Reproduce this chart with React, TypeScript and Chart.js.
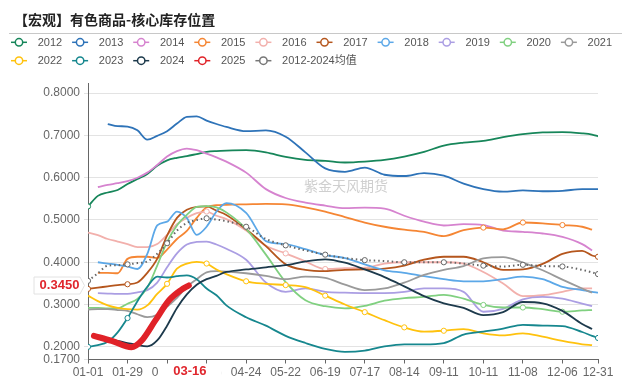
import React, { useEffect, useRef } from 'react';
import { Chart, registerables } from 'chart.js';
Chart.register(...registerables);

const TITLE = '【宏观】有色商品-核心库存位置';
const WATERMARK = '紫金天风期货';

// x positions are trading-day indices of the year (0 .. 258)
const X_GRID = [0, 5, 10, 15, 20, 25, 30, 35, 40, 45, 50, 55, 60, 65, 70, 80, 90, 100, 110, 120, 130, 140, 150, 160, 170, 180, 190, 200, 210, 220, 230, 240, 250, 255, 258];
const TICK_IDX = [0, 20, 40, 60, 80, 100, 120, 140, 160, 180, 200, 220, 240, 258];
const TICK_LABELS = ['01-01', '01-29', '02-26', '03-26', '04-24', '05-22', '06-19', '07-17', '08-14', '09-11', '10-11', '11-08', '12-06', '12-31'];
const Y_TICKS = [0.17, 0.2, 0.3, 0.4, 0.5, 0.6, 0.7, 0.8];

const S2012 = [0.532, 0.557, 0.565, 0.571, 0.585, 0.597, 0.609, 0.628, 0.641, 0.647, 0.651, 0.656, 0.661, 0.663, 0.664, 0.665, 0.660, 0.649, 0.642, 0.640, 0.636, 0.638, 0.642, 0.650, 0.661, 0.676, 0.683, 0.687, 0.696, 0.703, 0.707, 0.708, 0.705, 0.702, 0.698];
const S2013 = [null, null, 0.727, 0.722, 0.721, 0.712, 0.690, 0.699, 0.710, 0.728, 0.744, 0.745, 0.735, 0.727, 0.720, 0.710, 0.712, 0.697, 0.660, 0.622, 0.614, 0.624, 0.607, 0.604, 0.611, 0.605, 0.586, 0.573, 0.567, 0.570, 0.568, 0.569, 0.573, 0.573, 0.573];
const S2014 = [null, 0.578, 0.583, 0.587, 0.592, 0.600, 0.612, 0.630, 0.650, 0.663, 0.669, 0.665, 0.657, 0.648, 0.638, 0.612, 0.573, 0.552, 0.541, 0.534, 0.528, 0.529, 0.527, 0.510, 0.496, 0.487, 0.490, 0.488, 0.475, 0.472, 0.468, 0.460, 0.443, 0.428, null];
const S2015 = [null, 0.375, 0.375, 0.374, 0.408, 0.413, 0.413, 0.410, 0.430, 0.455, 0.474, 0.505, 0.530, 0.535, 0.536, 0.537, 0.538, 0.537, 0.530, 0.520, 0.507, 0.494, 0.484, 0.477, 0.472, 0.462, 0.476, 0.482, 0.478, 0.494, 0.492, 0.488, 0.484, 0.477, null];
const S2016 = [0.470, 0.464, 0.455, 0.449, 0.443, 0.436, 0.436, 0.443, 0.465, 0.490, 0.505, 0.516, 0.520, 0.510, 0.502, 0.475, 0.439, 0.421, 0.402, 0.384, 0.386, 0.387, 0.397, 0.400, 0.400, 0.400, 0.397, 0.377, 0.350, 0.320, 0.322, 0.330, 0.338, 0.338, null];
const S2017 = [0.337, 0.340, 0.343, 0.346, 0.348, 0.352, 0.375, 0.408, 0.463, 0.505, 0.524, 0.531, 0.532, 0.522, 0.512, 0.478, 0.438, 0.395, 0.382, 0.379, 0.382, 0.383, 0.385, 0.392, 0.406, 0.413, 0.413, 0.400, 0.382, 0.383, 0.396, 0.420, 0.427, 0.416, 0.413];
const S2018 = [null, 0.400, 0.397, 0.394, 0.390, 0.384, 0.420, 0.487, 0.496, 0.520, 0.505, 0.465, 0.484, 0.520, 0.540, 0.517, 0.450, 0.443, 0.431, 0.417, 0.410, 0.395, 0.381, 0.375, 0.367, 0.360, 0.355, 0.355, 0.360, 0.366, 0.360, 0.342, 0.334, 0.330, 0.328];
const S2019 = [null, 0.327, 0.326, 0.325, 0.325, 0.329, 0.334, 0.352, 0.388, 0.421, 0.442, 0.448, 0.449, 0.442, 0.432, 0.406, 0.352, 0.330, 0.338, 0.330, 0.328, 0.327, 0.327, 0.330, 0.338, 0.338, 0.330, 0.283, 0.290, 0.312, 0.318, 0.314, 0.302, 0.296, null];
const S2020 = [0.292, 0.292, 0.291, 0.291, 0.302, 0.313, 0.340, 0.392, 0.448, 0.487, 0.512, 0.531, 0.533, 0.530, 0.518, 0.479, 0.418, 0.353, 0.310, 0.296, 0.291, 0.297, 0.309, 0.315, 0.318, 0.323, 0.314, 0.299, 0.293, 0.293, 0.289, 0.283, 0.286, 0.287, null];
const S2021 = [0.288, 0.289, 0.289, 0.287, 0.285, 0.277, 0.270, 0.276, 0.295, 0.316, 0.342, 0.360, 0.376, 0.379, 0.378, 0.374, 0.368, 0.360, 0.366, 0.363, 0.347, 0.334, 0.338, 0.352, 0.370, 0.382, 0.391, 0.409, 0.412, 0.399, 0.381, 0.359, 0.338, 0.328, null];
const S2022 = [0.321, 0.308, 0.298, 0.292, 0.289, 0.288, 0.298, 0.325, 0.349, 0.385, 0.397, 0.401, 0.397, 0.383, 0.372, 0.355, 0.349, 0.346, 0.341, 0.321, 0.300, 0.282, 0.263, 0.246, 0.236, 0.238, 0.242, 0.232, 0.227, 0.232, 0.224, 0.214, 0.206, 0.204, null];
const S2023 = [0.200, 0.204, 0.212, 0.234, 0.268, 0.308, 0.342, 0.366, 0.364, 0.367, 0.369, 0.360, 0.338, 0.322, 0.298, 0.270, 0.250, 0.226, 0.209, 0.195, 0.188, 0.191, 0.201, 0.206, 0.206, 0.209, 0.229, 0.236, 0.243, 0.252, 0.250, 0.249, 0.235, 0.226, 0.221];
const S2024 = [null, 0.222, 0.218, 0.214, 0.209, 0.204, 0.201, 0.215, 0.250, 0.292, 0.324, 0.347, 0.360, 0.368, 0.377, 0.383, 0.388, 0.393, 0.402, 0.407, 0.399, 0.383, 0.365, 0.343, 0.320, 0.303, 0.292, 0.275, 0.282, 0.306, 0.303, 0.285, 0.254, 0.242, null];
const SAVG = [0.356, 0.374, 0.392, 0.393, 0.395, 0.398, 0.402, 0.420, 0.445, 0.475, 0.493, 0.500, 0.504, 0.501, 0.497, 0.484, 0.455, 0.440, 0.428, 0.418, 0.410, 0.405, 0.403, 0.400, 0.400, 0.400, 0.397, 0.392, 0.390, 0.394, 0.391, 0.390, 0.382, 0.376, 0.372];

const X2025 = [3, 12, 22, 27, 34, 41, 47, 51];
const S2025 = [0.226, 0.214, 0.199, 0.214, 0.262, 0.310, 0.334, 0.345];

// labelled dates on which each series shows a symbol
const MARK2012 = [0];
const MARK2015 = [200, 220, 240];
const MARK2016 = [60, 100, 120];
const MARK2017 = [0, 20, 258];
const MARK2020 = [200, 220, 240];
const MARK2022 = [40, 60, 80, 100, 120, 140, 160, 180];
const MARK2023 = [0, 20, 258];
const MARKAVG = TICK_IDX;

const CURRENT_IDX = 51;
const CURRENT_DATE = '03-16';
const CURRENT_VALUE = 0.345;

const NAMES = ['2012', '2013', '2014', '2015', '2016', '2017', '2018', '2019', '2020', '2021', '2022', '2023', '2024', '2025', '2012-2024均值'];
const COLORS = ['#17865a', '#2e73b8', '#d683cf', '#f58634', '#f2b0ac', '#b5561d', '#5ca8e8', '#ab9ee3', '#80d080', '#9a9a9a', '#ffc20e', '#16878e', '#1d3a4c', '#e02228', '#777777'];
const GRID_SERIES = [S2012, S2013, S2014, S2015, S2016, S2017, S2018, S2019, S2020, S2021, S2022, S2023, S2024];
const GRID_MARKS: number[][] = [MARK2012, [], [], MARK2015, MARK2016, MARK2017, [], [], MARK2020, [], MARK2022, MARK2023, []];

const RED = '#e0262d';

const decor = {
  id: 'decor',
  beforeDatasetsDraw(chart: any) {
    const { ctx, chartArea } = chart;
    ctx.save();
    ctx.font = '14px "Noto Sans CJK SC"';
    ctx.fillStyle = '#cfcfcf';
    ctx.textAlign = 'center';
    ctx.textBaseline = 'middle';
    ctx.fillText(WATERMARK, (chartArea.left + chartArea.right) / 2 + 3, 186);
    ctx.restore();
  },
  afterDraw(chart: any) {
    const { ctx } = chart;
    ctx.save();
    // title
    ctx.font = 'bold 14px "Noto Sans CJK SC"';
    ctx.fillStyle = '#222';
    ctx.textAlign = 'left';
    ctx.textBaseline = 'middle';
    ctx.fillText(TITLE, 14, 20);
    // separator
    ctx.strokeStyle = '#c8c8c8';
    ctx.lineWidth = 1.2;
    ctx.beginPath();
    ctx.moveTo(9, 33.5);
    ctx.lineTo(622, 33.5);
    ctx.stroke();
    // legend
    ctx.font = '11px "Liberation Sans", "Noto Sans CJK SC"';
    NAMES.forEach((name, i) => {
      const row = i < 10 ? 0 : 1;
      const col = i % 10;
      const x0 = 11 + col * 61.1;
      const y = row === 0 ? 42.3 : 60.7;
      ctx.strokeStyle = COLORS[i];
      ctx.lineWidth = 1.5;
      ctx.beginPath();
      ctx.moveTo(x0, y);
      ctx.lineTo(x0 + 16, y);
      ctx.stroke();
      ctx.beginPath();
      ctx.arc(x0 + 8, y, 3.7, 0, Math.PI * 2);
      ctx.fillStyle = '#fff';
      ctx.fill();
      ctx.stroke();
      ctx.fillStyle = '#555';
      ctx.textAlign = 'left';
      ctx.textBaseline = 'middle';
      ctx.fillText(name, x0 + 26.7, y + 0.5);
    });
    // axis pointer labels
    const xs = chart.scales.x;
    const ys = chart.scales.y;
    const px = xs.getPixelForValue(CURRENT_IDX);
    ctx.fillStyle = '#fff';
    ctx.fillRect(px - 30, 364, 63, 17);
    ctx.fillStyle = RED;
    ctx.font = 'bold 13px "Liberation Sans"';
    ctx.textAlign = 'center';
    ctx.textBaseline = 'middle';
    ctx.fillText(CURRENT_DATE, px + 1, 371.5);

    const py = ys.getPixelForValue(CURRENT_VALUE);
    ctx.beginPath();
    ctx.moveTo(34, py - 8.5);
    ctx.lineTo(80, py - 8.5);
    ctx.lineTo(84.5, py);
    ctx.lineTo(80, py + 8.5);
    ctx.lineTo(34, py + 8.5);
    ctx.closePath();
    ctx.fillStyle = '#fff';
    ctx.fill();
    ctx.strokeStyle = '#e2e2e2';
    ctx.lineWidth = 1;
    ctx.stroke();
    ctx.fillStyle = RED;
    ctx.fillText(CURRENT_VALUE.toFixed(4), 59.5, py - 0.5);
    ctx.restore();
  },
};

function makeDataset(i: number, data: any[], marks: number[], extra: any = {}) {
  const c = COLORS[i];
  return {
    label: NAMES[i],
    data,
    borderColor: c,
    backgroundColor: c,
    borderWidth: 1.8,
    pointBackgroundColor: '#fff',
    pointBorderColor: c,
    pointBorderWidth: 1,
    pointRadius: (ctx: any) => {
      const r = ctx.raw;
      return r && r.y != null && marks.includes(r.x) ? 2.6 : 0;
    },
    pointHoverRadius: 0,
    cubicInterpolationMode: 'monotone',
    order: 20 - i,
    ...extra,
  };
}

export default function App() {
  const ref = useRef<HTMLCanvasElement>(null);
  useEffect(() => {
    document.body.style.margin = '0';
    const datasets: any[] = GRID_SERIES.map((s, i) =>
      makeDataset(i, X_GRID.map((x, k) => ({ x, y: s[k] })), GRID_MARKS[i])
    );
    datasets.push(
      makeDataset(13, X2025.map((x, k) => ({ x, y: S2025[k] })), [], {
        borderWidth: 6,
        order: -5,
        borderCapStyle: 'round',
        borderJoinStyle: 'round',
      })
    );
    datasets.push(
      makeDataset(14, X_GRID.map((x, k) => ({ x, y: SAVG[k] })), MARKAVG, {
        borderColor: '#666',
        pointBorderColor: '#666',
        borderWidth: 2,
        borderDash: [1.5, 3],
        order: 0,
      })
    );
    const chart = new Chart(ref.current as HTMLCanvasElement, {
      type: 'line',
      data: { datasets },
      options: {
        responsive: false,
        animation: false,
        events: [],
        layout: { padding: { top: 83, right: 34, bottom: 0, left: 0 } },
        plugins: { legend: { display: false }, title: { display: false }, tooltip: { enabled: false } },
        scales: {
          x: {
            type: 'linear',
            min: 0,
            max: 258,
            afterBuildTicks: (s: any) => {
              s.ticks = TICK_IDX.map((v) => ({ value: v }));
            },
            afterFit: (s: any) => {
              s.height = 21.5;
            },
            ticks: {
              autoSkip: false,
              maxRotation: 0,
              padding: 2,
              color: '#666',
              font: { size: 12, family: '"Liberation Sans"' },
              callback: (v: any) => {
                const k = TICK_IDX.indexOf(Number(v));
                return k >= 0 ? TICK_LABELS[k] : '';
              },
            },
            grid: { drawOnChartArea: false, drawTicks: true, tickLength: 4, color: '#666' },
            border: { color: '#666', width: 1 },
          },
          y: {
            type: 'linear',
            min: 0.17,
            max: 0.824,
            afterBuildTicks: (s: any) => {
              s.ticks = Y_TICKS.map((v) => ({ value: v }));
            },
            afterFit: (s: any) => {
              s.width = 88;
            },
            ticks: {
              padding: 4,
              color: '#666',
              font: { size: 12, family: '"Liberation Sans"' },
              callback: (v: any) => Number(v).toFixed(4),
            },
            grid: { color: '#e3e3e3', tickLength: 4, drawTicks: true },
            border: { color: '#666', width: 1 },
          },
        },
      } as any,
      plugins: [decor],
    });
    return () => chart.destroy();
  }, []);
  return (
    <div style={{ width: 632, height: 381, background: '#fff' }}>
      <canvas ref={ref} width={632} height={381} style={{ display: 'block' }} />
    </div>
  );
}
